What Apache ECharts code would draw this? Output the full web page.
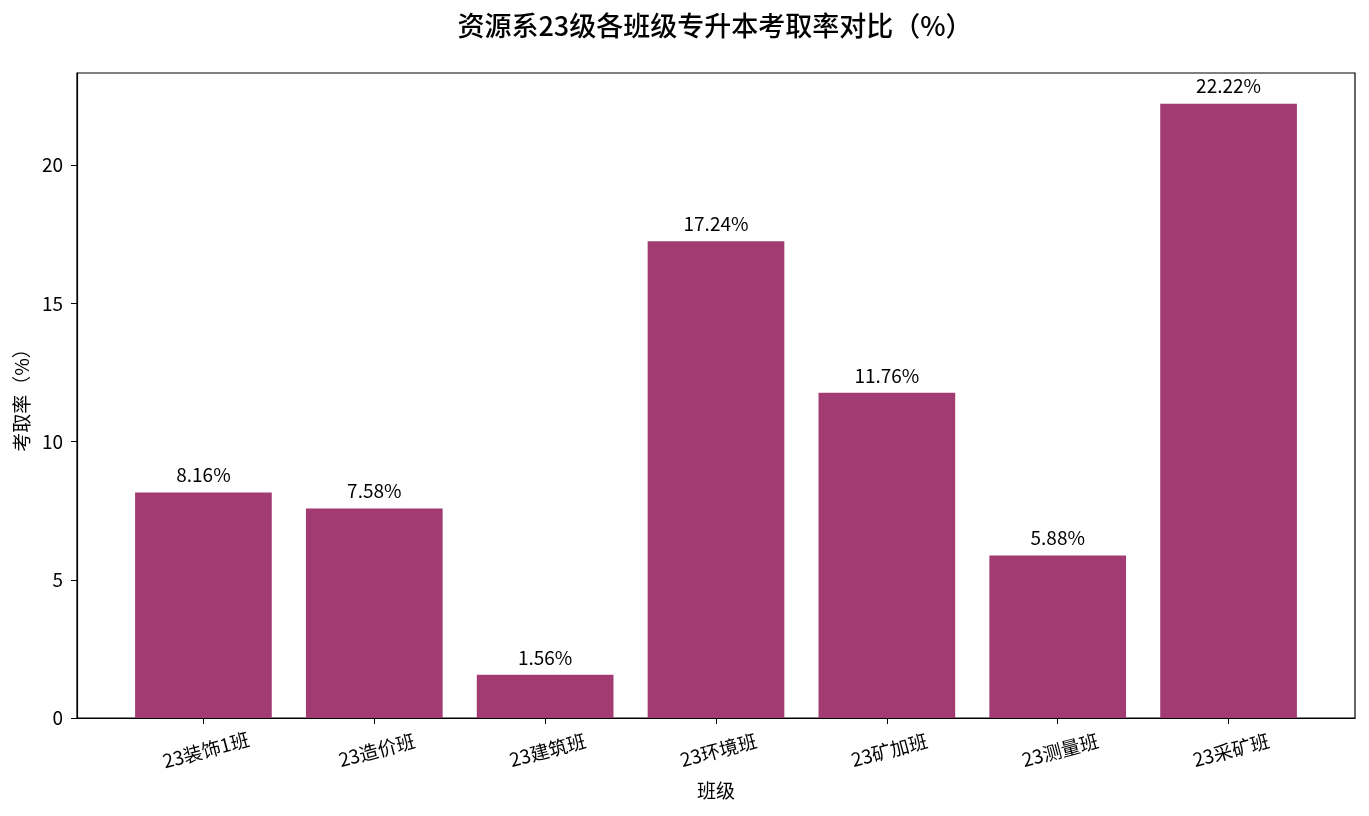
<!DOCTYPE html>
<html>
<head>
<meta charset="utf-8">
<script src="https://cdn.jsdelivr.net/npm/echarts@6.0.0/dist/echarts.min.js"></script>
<style>
  html, body { margin: 0; padding: 0; background: #fff; }
  #chart { width: 1369px; height: 816px; }
</style>
</head>
<body>
<div id="chart"></div>
<script>
var categories = ['23装饰1班', '23造价班', '23建筑班', '23环境班', '23矿加班', '23测量班', '23采矿班'];
var rates = [8.16, 7.58, 1.56, 17.24, 11.76, 5.88, 22.22];
var yTicks = [0, 5, 10, 15, 20];

var font = '"Noto Sans CJK SC", "Noto Sans", sans-serif';
var gridLeft = 77, gridRight = 14;
var xMin = -0.74, xMax = categories.length - 1 + 0.74;
var plotWidth = 1369 - gridLeft - gridRight;
var barWidth = 0.8 * plotWidth / (xMax - xMin);

var chart = echarts.init(document.getElementById('chart'));

var option = {
    backgroundColor: '#fff',
    animation: false,
    textStyle: { fontFamily: font },
    title: {
        text: '资源系23级各班级专升本考取率对比（%）',
        left: 710,
        textAlign: 'center',
        top: 7,
        textStyle: { fontSize: 27, fontWeight: 500, color: '#000', fontFamily: font }
    },
    grid: {
        left: gridLeft,
        right: gridRight,
        top: 73,
        bottom: 98,
        show: true,
        borderColor: '#000',
        borderWidth: 1.2
    },
    xAxis: {
        type: 'value',
        min: xMin,
        max: xMax,
        name: '班级',
        nameLocation: 'middle',
        nameGap: 63,
        nameTextStyle: { fontSize: 19, color: '#000', fontFamily: font },
        splitLine: { show: false },
        axisLine: { show: true, onZero: false, lineStyle: { color: '#000', width: 1.2 } },
        axisTick: {
            show: true,
            length: 6,
            lineStyle: { color: '#000' },
            customValues: categories.map(function (c, i) { return i; })
        },
        axisLabel: {
            customValues: categories.map(function (c, i) { return i; }),
            formatter: function (v) { return categories[Math.round(v)]; },
            rotate: 15,
            align: 'center',
            verticalAlign: 'top',
            margin: 23,
            fontSize: 19,
            color: '#000',
            fontFamily: font
        }
    },
    yAxis: {
        type: 'value',
        min: 0,
        max: 23.33,
        name: '考取率（%）',
        nameLocation: 'middle',
        nameGap: 45,
        nameRotate: 90,
        nameTextStyle: { fontSize: 19, color: '#000', fontFamily: font },
        splitLine: { show: false },
        axisLine: { show: true, onZero: false, lineStyle: { color: '#000', width: 1.2 } },
        axisTick: {
            show: true,
            length: 6,
            lineStyle: { color: '#000' },
            customValues: yTicks
        },
        axisLabel: {
            customValues: yTicks,
            margin: 14,
            fontSize: 19,
            color: '#000',
            fontFamily: font
        }
    },
    series: [
        {
            type: 'bar',
            barWidth: barWidth,
            data: rates.map(function (v, i) { return [i, v]; }),
            itemStyle: { color: '#A23B72' },
            label: {
                show: true,
                position: 'top',
                distance: 8,
                formatter: function (p) { return p.value[1].toFixed(2) + '%'; },
                fontSize: 19,
                color: '#000',
                fontFamily: font
            }
        }
    ]
};

chart.setOption(option);
</script>
</body>
</html>
